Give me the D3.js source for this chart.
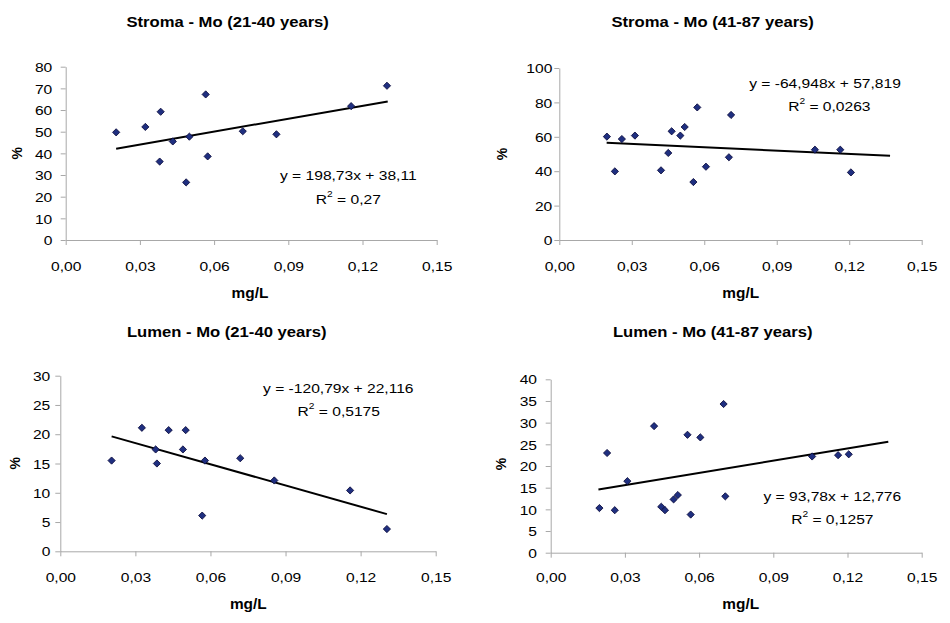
<!DOCTYPE html>
<html><head><meta charset="utf-8">
<script src="https://cdn.jsdelivr.net/npm/d3@7"></script>
<style>body{margin:0;background:#fff}svg{display:block}</style>
</head><body>
<svg id="c" width="950" height="623"></svg>
<script>
// ---------- data ----------
const xTicks = [0, 0.03, 0.06, 0.09, 0.12, 0.15];
const xTickLabels = ["0,00", "0,03", "0,06", "0,09", "0,12", "0,15"];

const titles = ["Stroma - Mo (21-40 years)", "Stroma - Mo (41-87 years)",
                "Lumen - Mo (21-40 years)", "Lumen - Mo (41-87 years)"];
const xTitle = "mg/L";
const yTitle = "%";

const yTicksStromaYoung = [0, 10, 20, 30, 40, 50, 60, 70, 80];
const yTicksStromaOld = [0, 20, 40, 60, 80, 100];
const yTicksLumenYoung = [0, 5, 10, 15, 20, 25, 30];
const yTicksLumenOld = [0, 5, 10, 15, 20, 25, 30, 35, 40];

const stromaYoungX = [0.0204, 0.0322, 0.0384, 0.0380, 0.0433, 0.0500, 0.0487, 0.0566, 0.0574, 0.0716, 0.0852, 0.1154, 0.1299];
const stromaYoungY = [49.7, 52.2, 59.2, 36.2, 45.5, 47.7, 26.6, 67.2, 38.6, 50.2, 48.8, 61.8, 71.2];

const stromaOldX = [0.0197, 0.0230, 0.0259, 0.0313, 0.0421, 0.0451, 0.0465, 0.0501, 0.0519, 0.0555, 0.0571, 0.0607, 0.0702, 0.0711, 0.1058, 0.1163, 0.1207];
const stromaOldY = [60.1, 39.9, 58.7, 60.7, 40.5, 50.6, 63.2, 60.7, 65.7, 33.7, 77.1, 42.6, 48.1, 72.7, 52.5, 52.5, 39.3];

const lumenYoungX = [0.0205, 0.0326, 0.0381, 0.0386, 0.0433, 0.0490, 0.0501, 0.0578, 0.0567, 0.0719, 0.0855, 0.1158, 0.1305];
const lumenYoungY = [15.5, 21.1, 17.4, 15.0, 20.7, 17.4, 20.7, 15.5, 6.1, 15.9, 12.1, 10.4, 3.8];

const lumenOldX = [0.0197, 0.0228, 0.0259, 0.0310, 0.0418, 0.0447, 0.0462, 0.0497, 0.0514, 0.0553, 0.0566, 0.0605, 0.0699, 0.0706, 0.1057, 0.1162, 0.1205];
const lumenOldY = [10.3, 23.0, 9.8, 16.5, 29.2, 10.6, 9.8, 12.3, 13.3, 27.2, 8.8, 26.6, 34.3, 13.0, 22.2, 22.5, 22.7];

const trendSlopes = [198.73, -64.948, -120.79, 93.78];
const trendIntercepts = [38.11, 57.819, 22.116, 12.776];
const trendFrom = [0.0204, 0.0196, 0.0205, 0.0193];
const trendTo = [0.1302, 0.1369, 0.1305, 0.1365];
const eqLabels = ["y = 198,73x + 38,11", "y = -64,948x + 57,819", "y = -120,79x + 22,116", "y = 93,78x + 12,776"];
const r2Values = ["0,27", "0,0263", "0,5175", "0,1257"];

// ---------- layout ----------
const layout = [
  {x0: 65.7, x1: 436.7, yT: 66.7, yB: 240, yMax: 80, ticks: yTicksStromaYoung, gap: 13.4, xlab: 30.7,
   title: [227.7, 21.7], ytitle: [16.7, 153.3], xt: [250, 293.5], eq: [348.3, 175.7], r2: [348.3, 199]},
  {x0: 559.3, x1: 921.7, yT: 68, yB: 240, yMax: 100, ticks: yTicksStromaOld, gap: 7, xlab: 30.7,
   title: [712.7, 22], ytitle: [501.7, 154], xt: [740.7, 293.5], eq: [825, 83.3], r2: [829.3, 106.7]},
  {x0: 60.3, x1: 435.7, yT: 375.7, yB: 551.3, yMax: 30, ticks: yTicksLumenYoung, gap: 10, xlab: 30.4,
   title: [226.7, 331.7], ytitle: [15, 463.3], xt: [248.3, 604.3], eq: [338.3, 388.3], r2: [338.7, 411.7]},
  {x0: 550.7, x1: 921.7, yT: 379.3, yB: 552.7, yMax: 40, ticks: yTicksLumenOld, gap: 13.7, xlab: 29,
   title: [712.7, 332], ytitle: [501, 464], xt: [740.7, 604.3], eq: [832.3, 496], r2: [832.3, 519.3]}
];
const seriesX = [stromaYoungX, stromaOldX, lumenYoungX, lumenOldX];
const seriesY = [stromaYoungY, stromaOldY, lumenYoungY, lumenOldY];

const FONT = "'Liberation Sans', Arial, sans-serif";
const SX = 1.2;
const svg = d3.select("#c");
svg.append("rect").attr("width", 950).attr("height", 623).attr("fill", "#fff");

function label(x, y, str, size, weight, sx, rotate) {
  const t = svg.append("text")
    .attr("transform", `translate(${x},${y})` + (rotate ? ` rotate(-90) scale(1,${sx})` : ` scale(${sx},1)`))
    .attr("text-anchor", "middle").attr("dominant-baseline", "central")
    .attr("font-family", FONT).attr("font-size", size).attr("font-weight", weight)
    .attr("fill", "#000").text(str);
  return t;
}

const diamond = d3.symbol().type(d3.symbolSquare).size(26);

layout.forEach((L, i) => {
  const x = d3.scaleLinear().domain([0, 0.15]).range([L.x0, L.x1]);
  const y = d3.scaleLinear().domain([0, L.yMax]).range([L.yB, L.yT]);

  const gx = svg.append("g").attr("transform", `translate(0,${L.yB})`)
    .call(d3.axisBottom(x).tickValues(xTicks).tickFormat((d, k) => xTickLabels[k]).tickSize(5).tickSizeOuter(0));
  const gy = svg.append("g").attr("transform", `translate(${L.x0},0)`)
    .call(d3.axisLeft(y).tickValues(L.ticks).tickFormat(d3.format("d")).tickSize(5).tickSizeOuter(0));
  [gx, gy].forEach(g => {
    g.select(".domain").attr("stroke", "#a8a8a8").attr("stroke-width", 1);
    g.selectAll(".tick line").attr("stroke", "#a8a8a8").attr("stroke-width", 1);
    g.selectAll("text").attr("font-family", FONT).attr("font-size", 13).attr("fill", "#000");
  });
  gx.selectAll("text").attr("y", L.xlab).attr("dy", 0).attr("transform", `scale(${SX},1)`);
  gy.selectAll("text").attr("x", -L.gap / SX).attr("dy", "0.36em").attr("transform", `scale(${SX},1)`);
  gx.selectAll(".tick").each(function () {
    // keep text anchored at tick position after scaling
    const tr = d3.select(this).attr("transform");
    const tx = +tr.match(/translate\(([^,]+),/)[1];
    d3.select(this).attr("transform", `translate(${tx},0)`);
    d3.select(this).select("text").attr("x", 0);
  });

  // trend line
  const tl = [trendFrom[i], trendTo[i]].map(v => [v, trendSlopes[i] * v + trendIntercepts[i]]);
  svg.append("path")
    .attr("d", d3.line().x(d => x(d[0])).y(d => y(d[1]))(tl))
    .attr("stroke", "#000").attr("stroke-width", 2).attr("fill", "none");

  // points
  svg.append("g").selectAll("path").data(seriesX[i].map((v, k) => [v, seriesY[i][k]]))
    .join("path")
    .attr("d", diamond)
    .attr("transform", d => `translate(${x(d[0])},${y(d[1])}) rotate(45)`)
    .attr("fill", "#1f2f80").attr("stroke", "#0a0a3a").attr("stroke-width", 0.8);

  // texts
  label(L.title[0], L.title[1], titles[i], 15, "bold", 1.11);
  label(L.xt[0], L.xt[1], xTitle, 14, "bold", 1.1);
  label(L.ytitle[0], L.ytitle[1], yTitle, 14, "bold", 1.1, true);
  label(L.eq[0], L.eq[1], eqLabels[i], 13, "normal", SX);
  const r = label(L.r2[0], L.r2[1], "", 13, "normal", SX);
  r.append("tspan").text("R");
  r.append("tspan").attr("font-size", 8.5).attr("dy", -5).text("2");
  r.append("tspan").attr("dy", 5).text(" = " + r2Values[i]);
});
</script>
</body></html>
